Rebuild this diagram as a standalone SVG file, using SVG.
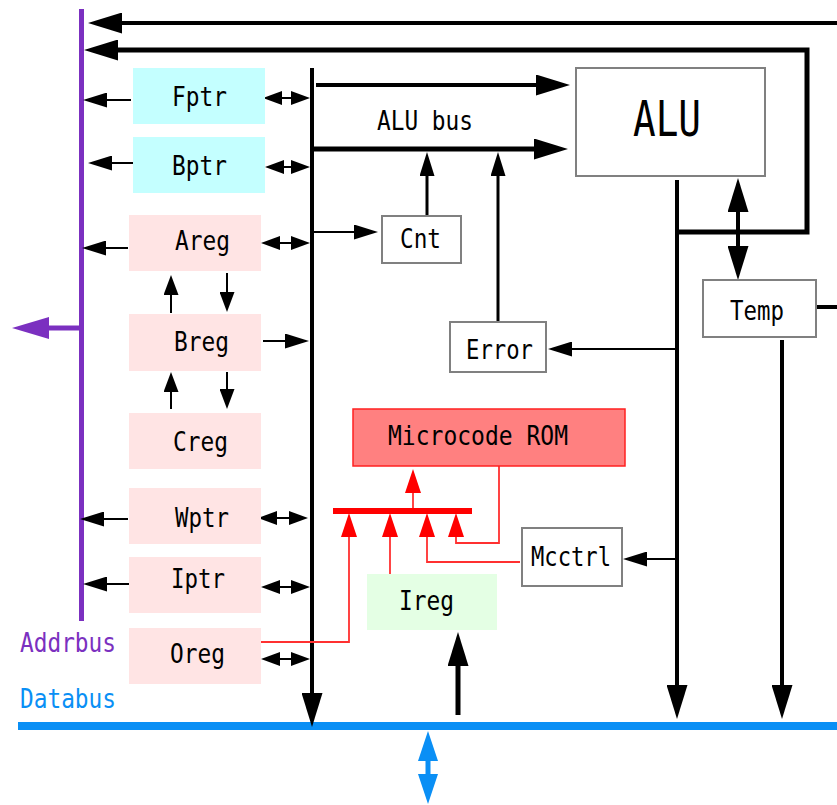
<svg xmlns="http://www.w3.org/2000/svg" width="837" height="805" viewBox="0 0 837 805">
<style>
text{font-family:"DejaVu Sans Mono","Liberation Mono",monospace;font-size:27px;fill:#000}
.cy{fill:#c4ffff}
.pk{fill:#ffe4e4}
.gr{fill:#e4ffe4}
.bx{fill:#fff;stroke:#808080;stroke-width:2}
.rom{fill:#ff8080;stroke:#ff2020;stroke-width:1.5}
.k{fill:none;stroke:#000}
.r{fill:none;stroke:#ff3030;stroke-width:1.8}
</style>
<defs>
<marker id="b" markerUnits="userSpaceOnUse" markerWidth="34" markerHeight="21" viewBox="0 0 34 21" refX="0" refY="10.5" orient="auto-start-reverse"><path d="M0,0L34,10.5L0,21z" fill="#000"/></marker>
<marker id="m" markerUnits="userSpaceOnUse" markerWidth="24" markerHeight="15" viewBox="0 0 24 15" refX="0" refY="7.5" orient="auto-start-reverse"><path d="M0,0L24,7.5L0,15z" fill="#000"/></marker>
<marker id="t" markerUnits="userSpaceOnUse" markerWidth="20" markerHeight="15" viewBox="0 0 20 15" refX="0" refY="7.5" orient="auto-start-reverse"><path d="M0,0L20,7.5L0,15z" fill="#000"/></marker>
<marker id="s" markerUnits="userSpaceOnUse" markerWidth="19" markerHeight="14" viewBox="0 0 19 14" refX="0" refY="7" orient="auto-start-reverse"><path d="M0,0L19,7L0,14z" fill="#000"/></marker>
<marker id="rd" markerUnits="userSpaceOnUse" markerWidth="24" markerHeight="16" viewBox="0 0 24 16" refX="0" refY="8" orient="auto-start-reverse"><path d="M0,0L24,8L0,16z" fill="#ff0000"/></marker>
<marker id="pu" markerUnits="userSpaceOnUse" markerWidth="37" markerHeight="22" viewBox="0 0 37 22" refX="0" refY="11" orient="auto-start-reverse"><path d="M0,0L37,11L0,22z" fill="#7b30c0"/></marker>
<marker id="bl" markerUnits="userSpaceOnUse" markerWidth="30" markerHeight="20" viewBox="0 0 30 20" refX="0" refY="10" orient="auto-start-reverse"><path d="M0,0L30,10L0,20z" fill="#0a8ff5"/></marker>
</defs>

<g id="connectors">
<path d="M81.5,9V621" stroke="#7b30c0" stroke-width="5" fill="none"/>
<path d="M81,328H49" stroke="#7b30c0" stroke-width="5" fill="none" marker-end="url(#pu)"/>
<path d="M18,726H837" stroke="#0a8ff5" stroke-width="8" fill="none"/>
<path d="M428,761V774" stroke="#0a8ff5" stroke-width="5" fill="none" marker-start="url(#bl)" marker-end="url(#bl)"/>

<path class="k" d="M837,23H122" stroke-width="4" marker-end="url(#b)"/>
<path class="k" d="M675,232H807V50H118" stroke-width="5" marker-end="url(#b)"/>
<path class="k" d="M312,68V693" stroke-width="4" marker-end="url(#b)"/>
<path class="k" d="M316,85H536" stroke-width="4" marker-end="url(#b)"/>
<path class="k" d="M312,149H534" stroke-width="5" marker-end="url(#b)"/>
<path class="k" d="M313,232H354" stroke-width="2" marker-end="url(#m)"/>
<path class="k" d="M427,216V176" stroke-width="3" marker-end="url(#m)"/>
<path class="k" d="M498,322V176" stroke-width="3" marker-end="url(#m)"/>
<path class="k" d="M677,180V685" stroke-width="4" marker-end="url(#b)"/>
<path class="k" d="M738,212V246" stroke-width="4" marker-start="url(#b)" marker-end="url(#b)"/>
<path class="k" d="M816,307H837" stroke-width="4"/>
<path class="k" d="M782,340V685" stroke-width="4" marker-end="url(#b)"/>
<path class="k" d="M677,349H572" stroke-width="2" marker-end="url(#m)"/>
<path class="k" d="M677,559H647" stroke-width="2" marker-end="url(#m)"/>
<path class="k" d="M458,715V666" stroke-width="5" marker-end="url(#b)"/>

<path class="k" d="M282,98H291" stroke-width="2" marker-start="url(#s)" marker-end="url(#s)"/>
<path class="k" d="M284,167H291" stroke-width="2" marker-start="url(#s)" marker-end="url(#s)"/>
<path class="k" d="M280,243H291" stroke-width="2" marker-start="url(#s)" marker-end="url(#s)"/>
<path class="k" d="M277,518H289" stroke-width="2" marker-start="url(#s)" marker-end="url(#s)"/>
<path class="k" d="M280,587H291" stroke-width="2" marker-start="url(#s)" marker-end="url(#s)"/>
<path class="k" d="M280,659H291" stroke-width="2" marker-start="url(#s)" marker-end="url(#s)"/>
<path class="k" d="M263,341H285" stroke-width="2" marker-end="url(#m)"/>

<path class="k" d="M131,100H107" stroke-width="2" marker-end="url(#m)"/>
<path class="k" d="M133,163H112" stroke-width="2" marker-end="url(#m)"/>
<path class="k" d="M128,248H106" stroke-width="2" marker-end="url(#m)"/>
<path class="k" d="M128,519H104" stroke-width="2" marker-end="url(#m)"/>
<path class="k" d="M130,584H107" stroke-width="2" marker-end="url(#m)"/>

<path class="k" d="M171,313V295" stroke-width="2" marker-end="url(#t)"/>
<path class="k" d="M227,273V292" stroke-width="2" marker-end="url(#t)"/>
<path class="k" d="M171,409V392" stroke-width="2" marker-end="url(#t)"/>
<path class="k" d="M227,372V389" stroke-width="2" marker-end="url(#t)"/>

<path d="M333,511H472" stroke="#ff0000" stroke-width="6" fill="none"/>
<path class="r" d="M413,508V493" marker-end="url(#rd)"/>
<path class="r" d="M260,642H349V537" marker-end="url(#rd)"/>
<path class="r" d="M390,574V537" marker-end="url(#rd)"/>
<path class="r" d="M520,562H427V537" marker-end="url(#rd)"/>
<path class="r" d="M499,466V543H456V537" marker-end="url(#rd)"/>
</g>

<g id="Fptr"><rect class="cy" x="133" y="68" width="132" height="56"/><text x="172" y="106" textLength="55" lengthAdjust="spacingAndGlyphs">Fptr</text></g>
<g id="Bptr"><rect class="cy" x="133" y="137" width="132" height="56"/><text x="172" y="175" textLength="55" lengthAdjust="spacingAndGlyphs">Bptr</text></g>
<g id="Areg"><rect class="pk" x="129" y="215" width="132" height="56"/><text x="175" y="250" textLength="55" lengthAdjust="spacingAndGlyphs">Areg</text></g>
<g id="Breg"><rect class="pk" x="129" y="314" width="132" height="57"/><text x="174" y="351" textLength="55" lengthAdjust="spacingAndGlyphs">Breg</text></g>
<g id="Creg"><rect class="pk" x="129" y="413" width="132" height="56"/><text x="173" y="451" textLength="55" lengthAdjust="spacingAndGlyphs">Creg</text></g>
<g id="Wptr"><rect class="pk" x="129" y="488" width="132" height="56"/><text x="175" y="527" textLength="54" lengthAdjust="spacingAndGlyphs">Wptr</text></g>
<g id="Iptr"><rect class="pk" x="129" y="557" width="132" height="56"/><text x="171" y="588" textLength="54" lengthAdjust="spacingAndGlyphs">Iptr</text></g>
<g id="Oreg"><rect class="pk" x="129" y="628" width="132" height="56"/><text x="170" y="663" textLength="55" lengthAdjust="spacingAndGlyphs">Oreg</text></g>
<g id="Ireg"><rect class="gr" x="367" y="574" width="130" height="56"/><text x="399" y="610" textLength="55" lengthAdjust="spacingAndGlyphs">Ireg</text></g>
<g id="ALU"><rect class="bx" x="576" y="68" width="189" height="108"/><text x="633" y="136" style="font-size:49px" textLength="68" lengthAdjust="spacingAndGlyphs">ALU</text></g>
<g id="Cnt"><rect class="bx" x="382" y="216" width="79" height="47"/><text x="400" y="248" textLength="41" lengthAdjust="spacingAndGlyphs">Cnt</text></g>
<g id="Error"><rect class="bx" x="450" y="322" width="96" height="50"/><text x="466" y="359" textLength="67" lengthAdjust="spacingAndGlyphs">Error</text></g>
<g id="Temp"><rect class="bx" x="703" y="280" width="113" height="57"/><text x="730" y="320" textLength="54" lengthAdjust="spacingAndGlyphs">Temp</text></g>
<g id="Mcctrl"><rect class="bx" x="522" y="528" width="100" height="58"/><text x="531" y="566" textLength="80" lengthAdjust="spacingAndGlyphs">Mcctrl</text></g>
<g id="MicrocodeROM"><rect class="rom" x="353" y="409" width="272" height="57"/><text x="388" y="445" textLength="180" lengthAdjust="spacingAndGlyphs">Microcode ROM</text></g>
<g id="labels">
<text x="377" y="130" textLength="96" lengthAdjust="spacingAndGlyphs">ALU bus</text>
<text x="20" y="652" textLength="96" lengthAdjust="spacingAndGlyphs" style="fill:#7b30c0">Addrbus</text>
<text x="20" y="708" textLength="96" lengthAdjust="spacingAndGlyphs" style="fill:#0a8ff5">Databus</text>
</g>
</svg>
